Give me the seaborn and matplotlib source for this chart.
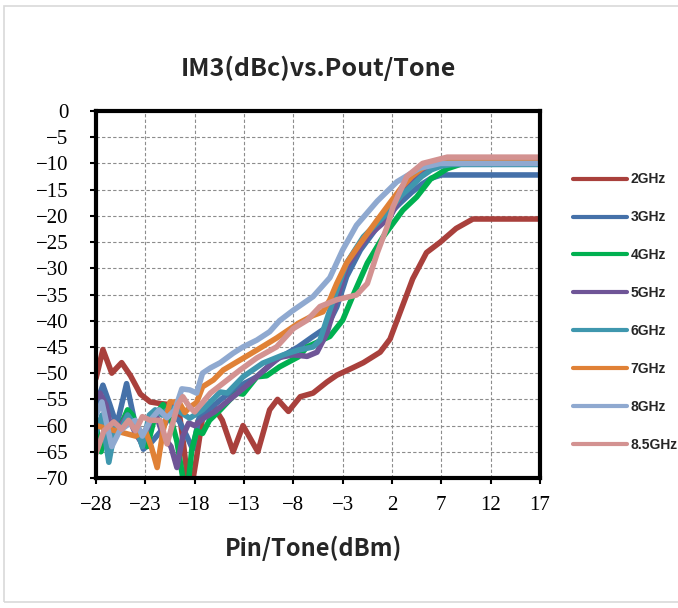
import seaborn as sns
import matplotlib.pyplot as plt
import matplotlib.patches as mpatches
import pandas as pd

# IM3 (dBc), one x/y list per frequency
x_2g = [-28, -27.3, -26.4, -25.4, -24.5, -23.5, -22.5, -21.5, -20.5, -19.6, -19.1, -18.5, -17.8, -17.2, -16.2,
        -15.2, -14.1, -13.1, -11.6, -10.4, -9.6, -8.5, -7.3, -6.0, -4.6, -3.6, -2.0, -0.9, 0.8, 1.8, 2.6, 4.1,
        5.5, 6.9, 8.5, 10.2, 17]
y_2g = [-51, -45.5, -50, -48, -50.5, -54, -55.5, -55.8, -56, -57, -64, -74, -66, -58.5, -56,
        -59, -65, -60, -65, -57, -55, -57.3, -54.5, -53.8, -51.7, -50.4, -49, -48, -46, -43.5, -39.5, -32,
        -27, -25, -22.4, -20.6, -20.6]

x_3g = [-28, -27.3, -26.6, -25.9, -24.9, -24.0, -23.2, -22.3, -21.4, -20.5, -19.6, -18.8, -18.2, -17.5, -16.6,
        -15.0, -13.5, -11.7, -9.8, -7.5, -6.0, -4.6, -3.6, -2.6, -1.2, 0.8, 2.8, 4, 5, 6, 7, 17]
y_3g = [-56, -52.3, -56, -60, -52, -60, -64.5, -63, -61, -58, -59, -62, -64.5, -58, -57,
        -54.5, -52.5, -50.7, -47.5, -45, -43, -41.2, -37.4, -31.6, -26.5, -21.4, -17.6, -15.5, -14, -12.8, -12.2, -12.2]

x_4g = [-28, -27.5, -26.8, -26.2, -25.5, -24.8, -24.3, -23.5, -22.8, -22.0, -21.2, -20.5, -19.8, -19.2, -18.7,
        -18.3, -17.8, -17.2, -16.5, -15.4, -14.4, -13.7, -13.1, -11.7, -10.7, -9.4, -7.5, -6.6, -4.3, -3.0,
        -2.0, -0.5, 1.1, 3.1, 4.5, 5.9, 7.6, 10, 17]
y_4g = [-60, -65, -60, -62, -60, -57, -58, -62, -64, -58, -56, -58, -63, -70, -72,
        -64.7, -61, -61.5, -59, -57, -55, -53.8, -54, -50.7, -50.5, -48.8, -46.9, -45, -43, -39.9,
        -35.4, -29, -24, -18.9, -16.4, -13, -11, -9.5, -9.5]

x_5g = [-28, -27.6, -27.0, -26.3, -25.5, -24.8, -24.0, -23.3, -22.5, -21.8, -21.2, -20.4, -19.8, -19.2, -18.6,
        -18.0, -17.0, -16.0, -14.1, -12.5, -10.4, -9.4, -8, -6.6, -5.6, -4.6, -3.6, -2.6, -0.5, 1.8, 3, 4, 5,
        6, 7, 9, 17]
y_5g = [-55, -53.8, -56, -62, -60, -58, -61.5, -63.5, -59, -58.5, -62, -64, -68, -62, -59.5,
        -60, -58.5, -57.4, -54.5, -52, -48.5, -47, -46.5, -46.8, -46, -42.4, -36, -29.7, -24, -20.2, -16, -13.8, -12,
        -10.8, -10, -9.7, -9.7]

x_6g = [-28, -27.4, -26.7, -26.0, -25.5, -24.8, -24.0, -23.3, -22.6, -22.0, -21.3, -20.5, -19.8, -19.0, -18.5,
        -17.2, -15.4, -14.7, -13.1, -11.1, -9.0, -7.5, -6, -5.3, -4.3, -3.6, -2.6, -0.9, 1.5, 3, 4, 5, 6, 7, 8, 17]
y_6g = [-61.4, -58, -67, -60, -61, -58, -60, -64, -58, -57, -58, -56.5, -57, -58, -58.6,
        -57, -53.6, -53.8, -50.7, -48.1, -46.5, -45.6, -45, -43.7, -38, -34.2, -29, -24, -19.5, -16, -14.3, -12.5,
        -11.2, -10.5, -10.2, -10.2]

x_7g = [-28, -27, -26, -25, -24, -23, -22.4, -21.8, -21.2, -20.5, -19.6, -19.0, -18.5, -17.8, -17.2,
        -16.1, -15.1, -13.4, -11.7, -9.7, -7.5, -6, -5, -4.3, -3.6, -2.6, -1.2, 0.5, 1.8, 3, 4, 5, 6, 7, 17]
y_7g = [-60, -60.5, -61, -61.5, -62, -61, -64, -68, -61, -55.5, -55.5, -57.5, -56.5, -55.6, -52.6,
        -51.3, -49.4, -47.5, -45.6, -43.3, -40.5, -39, -38.3, -36, -32.9, -29, -25.2, -20.8, -17.5, -14.5, -12.5,
        -11, -10, -9.6, -9.5]

x_8g = [-28, -27.4, -26.4, -25.6, -24.9, -24.0, -23.3, -22.5, -21.6, -20.8, -20.0, -19.3, -18.5, -17.8, -17.2,
        -16.4, -15.4, -14.1, -13.1, -11.7, -10.4, -9.4, -8, -6.0, -4.3, -3.0, -1.6, 0.5, 2.5, 4.8, 6.9, 17]
y_8g = [-58, -55.5, -64, -61, -60, -59, -62, -59, -57, -58.5, -57, -53, -53.2, -53.8, -50,
        -49, -48, -46.2, -45, -43.7, -42.1, -40, -38, -35.4, -31.8, -26.5, -21.8, -17.2, -13.5, -10.9, -10, -10]

x_85g = [-28, -27.2, -26.2, -25.4, -24.7, -24.0, -23.3, -22.5, -21.5, -20.8, -19.7, -19.2, -18.5, -18.0,
         -16.4, -15.1, -13.4, -11.7, -9.7, -8, -6.6, -5.3, -3.6, -1.6, -0.5, 0.5, 1.5, 2.1, 3.5, 5.1, 7.6, 17]
y_85g = [-65.3, -61, -59.3, -60.7, -59, -61, -58.3, -59, -59, -63.5, -56, -54.5, -56.5, -57.4,
         -53.8, -51.9, -49.4, -47.1, -45, -41.5, -39.9, -37.3, -36, -35.1, -32.9, -27.1, -22.1, -18.3, -12.5, -10,
         -8.8, -8.8]

freqs = ["2GHz", "3GHz", "4GHz", "5GHz", "6GHz", "7GHz", "8GHz", "8.5GHz"]
xs = [x_2g, x_3g, x_4g, x_5g, x_6g, x_7g, x_8g, x_85g]
ys = [y_2g, y_3g, y_4g, y_5g, y_6g, y_7g, y_8g, y_85g]
colors = ["#A9403C", "#4571A9", "#00B050", "#6F5597", "#3F97AE", "#E08136", "#8FA9D0", "#D39291"]
x_ticks = list(range(-28, 18, 5))
y_ticks = list(range(-70, 1, 5))

df = pd.concat([pd.DataFrame({"pin": x, "im3": y, "freq": f}) for f, x, y in zip(freqs, xs, ys)],
               ignore_index=True)

sns.set_style("ticks")
plt.rcParams['font.family'] = ['Liberation Serif', 'DejaVu Sans']

fig = plt.figure(figsize=(6.78, 6.08), dpi=100)
ax = fig.add_axes([96 / 678, 1 - 478 / 608, 444 / 678, 367 / 608])

sns.lineplot(data=df, x="pin", y="im3", hue="freq", hue_order=freqs, palette=dict(zip(freqs, colors)),
             sort=False, estimator=None, linewidth=4, ax=ax, legend=True)
for ln in ax.get_lines():
    ln.set_solid_capstyle("round")
    ln.set_solid_joinstyle("round")

ax.set_xlim(-28, 17)
ax.set_ylim(-70, 0)
ax.set_xticks(x_ticks)
ax.set_yticks(y_ticks)
ax.tick_params(labelsize=15, length=4, width=1.5, colors="black")
ax.tick_params(axis="y", pad=16)
ax.tick_params(axis="x", pad=9)
ax.grid(True, linestyle=(0, (3, 2)), color="#8c8c8c", linewidth=0.8)
for s in ax.spines.values():
    s.set_linewidth(3)
    s.set_color("black")
ax.set_xlabel("")
ax.set_ylabel("")

handles, labels = ax.get_legend_handles_labels()
ax.get_legend().remove()
leg = fig.legend(handles, labels, loc="upper left", bbox_to_anchor=(560 / 678, 1 - 160 / 608),
                 frameon=False, handlelength=3.9, handletextpad=0.3, labelspacing=1.72,
                 prop={"family": "Liberation Sans", "weight": "bold", "size": 10})
for h in leg.get_lines():
    h.set_linewidth(3)

fig.text(318 / 678, 1 - 68 / 608, "IM3(dBc)vs.Pout/Tone", ha="center", va="center",
         fontsize=18, fontweight="bold", family="Noto Sans CJK SC")
fig.text(314 / 678, 1 - 548 / 608, "Pin/Tone(dBm)", ha="center", va="center",
         fontsize=17, fontweight="bold", family="Noto Sans CJK SC")

fig.patches.append(mpatches.Rectangle((4 / 678, 6 / 608), 680 / 678, 596 / 608, transform=fig.transFigure,
                                      fill=False, edgecolor="#d9d9d9", linewidth=1.2))

fig.savefig("out.png", dpi=100)
